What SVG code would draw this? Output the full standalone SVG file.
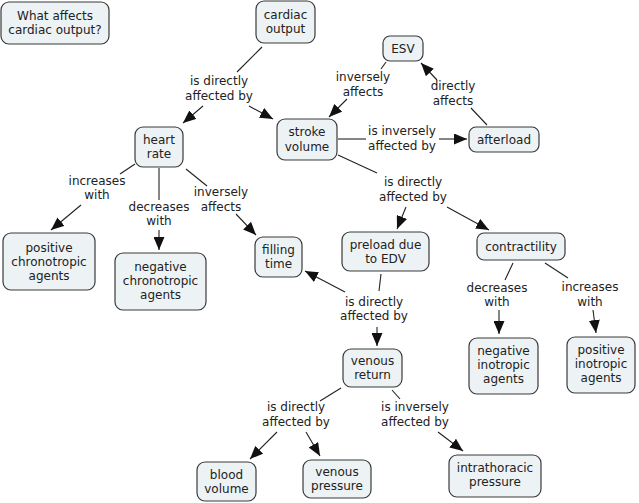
<svg xmlns="http://www.w3.org/2000/svg" width="639" height="503" viewBox="0 0 639 503">
<defs>
<style>
.n rect{fill:#edf2f5;stroke:#3a3a3a;stroke-width:1.2}
text{font-family:"DejaVu Sans",Verdana,sans-serif;font-size:12px;fill:#222;text-anchor:middle}
.c line{stroke:#222;stroke-width:1.1}
.a{marker-end:url(#ah)}
</style>
<marker id="ah" markerUnits="userSpaceOnUse" markerWidth="13" markerHeight="11" refX="13" refY="5.5" orient="auto">
<path d="M0,0 L13,5.5 L0,11 z" fill="#111"/>
</marker>
</defs>
<rect width="639" height="503" fill="#fff"/>
<g id="connectors" class="c">
<line x1="262" y1="47" x2="237" y2="72"/>
<line class="a" x1="203" y1="106" x2="183" y2="123"/>
<line class="a" x1="249" y1="106" x2="273" y2="119"/>
<line x1="135" y1="164" x2="120" y2="174"/>
<line class="a" x1="81" y1="205" x2="51" y2="230"/>
<line x1="159" y1="168" x2="159" y2="200"/>
<line class="a" x1="159" y1="230" x2="159" y2="250"/>
<line x1="186" y1="169" x2="207" y2="186"/>
<line class="a" x1="236" y1="214" x2="256" y2="235"/>
<line x1="386" y1="62" x2="381" y2="69"/>
<line class="a" x1="347" y1="99" x2="329" y2="117"/>
<line x1="487" y1="125" x2="471" y2="108"/>
<line class="a" x1="437" y1="80" x2="421" y2="63"/>
<line x1="338" y1="139" x2="366" y2="139"/>
<line class="a" x1="439" y1="139" x2="467" y2="139"/>
<line x1="338" y1="155" x2="377" y2="173"/>
<line class="a" x1="406" y1="207" x2="397" y2="229"/>
<line class="a" x1="447" y1="207" x2="489" y2="230"/>
<line x1="381" y1="274" x2="379" y2="291"/>
<line class="a" x1="377" y1="327" x2="377" y2="346"/>
<line class="a" x1="345" y1="292" x2="305" y2="271"/>
<line x1="513" y1="263" x2="505" y2="280"/>
<line class="a" x1="499" y1="310" x2="499" y2="334"/>
<line x1="545" y1="263" x2="568" y2="278"/>
<line class="a" x1="593" y1="310" x2="596" y2="333"/>
<line x1="392" y1="390" x2="400" y2="399"/>
<line class="a" x1="438" y1="432" x2="463" y2="451"/>
<line x1="341" y1="388" x2="320" y2="401"/>
<line class="a" x1="277" y1="432" x2="250" y2="459"/>
<line class="a" x1="306" y1="432" x2="320" y2="456"/>
</g>
<g id="labels">
<text x="219" y="85">is directly<tspan x="219" y="100">affected by</tspan></text>
<text x="97" y="185">increases<tspan x="97" y="199">with</tspan></text>
<text x="159" y="211">decreases<tspan x="159" y="225">with</tspan></text>
<text x="221" y="196">inversely<tspan x="221" y="211">affects</tspan></text>
<text x="363" y="81">inversely<tspan x="363" y="96">affects</tspan></text>
<text x="453" y="90">directly<tspan x="453" y="105">affects</tspan></text>
<text x="402" y="135">is inversely<tspan x="402" y="150">affected by</tspan></text>
<text x="413" y="186">is directly<tspan x="413" y="201">affected by</tspan></text>
<text x="374" y="306">is directly<tspan x="374" y="320">affected by</tspan></text>
<text x="497" y="292">decreases<tspan x="497" y="306">with</tspan></text>
<text x="590" y="291">increases<tspan x="590" y="306">with</tspan></text>
<text x="415" y="411">is inversely<tspan x="415" y="426">affected by</tspan></text>
<text x="296" y="411">is directly<tspan x="296" y="426">affected by</tspan></text>
</g>
<g id="n-question" class="n"><rect x="1" y="2" width="108" height="42" rx="8"/><text x="55" y="20">What affects<tspan x="55" y="34">cardiac output?</tspan></text></g>
<g id="n-cardiac-output" class="n"><rect x="256" y="1" width="59" height="42" rx="8"/><text x="285.5" y="19">cardiac<tspan x="285.5" y="33">output</tspan></text></g>
<g id="n-heart-rate" class="n"><rect x="135" y="127" width="48" height="40" rx="8"/><text x="159" y="144">heart<tspan x="159" y="158">rate</tspan></text></g>
<g id="n-stroke-volume" class="n"><rect x="277" y="119" width="60" height="41" rx="8"/><text x="307" y="136">stroke<tspan x="307" y="151">volume</tspan></text></g>
<g id="n-esv" class="n"><rect x="383" y="36" width="40" height="25" rx="7"/><text x="403" y="53">ESV</text></g>
<g id="n-afterload" class="n"><rect x="469" y="127" width="70" height="25" rx="7"/><text x="504" y="144">afterload</text></g>
<g id="n-preload" class="n"><rect x="342" y="232" width="87" height="39" rx="8"/><text x="385.5" y="248.5">preload due<tspan x="385.5" y="262.5">to EDV</tspan></text></g>
<g id="n-contractility" class="n"><rect x="477" y="233" width="88" height="27" rx="7"/><text x="521" y="251">contractility</text></g>
<g id="n-pos-chrono" class="n"><rect x="3" y="233" width="92" height="57" rx="8"/><text x="49" y="251.5">positive<tspan x="49" y="265.5">chronotropic</tspan><tspan x="49" y="279.5">agents</tspan></text></g>
<g id="n-neg-chrono" class="n"><rect x="115" y="253" width="91" height="57" rx="8"/><text x="160.5" y="270.5">negative<tspan x="160.5" y="284.5">chronotropic</tspan><tspan x="160.5" y="298.5">agents</tspan></text></g>
<g id="n-filling-time" class="n"><rect x="255" y="237" width="47" height="40" rx="8"/><text x="278.5" y="254">filling<tspan x="278.5" y="268">time</tspan></text></g>
<g id="n-venous-return" class="n"><rect x="343" y="349" width="59" height="38" rx="8"/><text x="372.5" y="364.5">venous<tspan x="372.5" y="378.5">return</tspan></text></g>
<g id="n-neg-ino" class="n"><rect x="469" y="338" width="69" height="56" rx="8"/><text x="503.5" y="355">negative<tspan x="503.5" y="369">inotropic</tspan><tspan x="503.5" y="383">agents</tspan></text></g>
<g id="n-pos-ino" class="n"><rect x="567" y="337" width="68" height="56" rx="8"/><text x="601" y="354">positive<tspan x="601" y="368">inotropic</tspan><tspan x="601" y="382">agents</tspan></text></g>
<g id="n-intrathoracic" class="n"><rect x="449" y="455" width="92" height="42" rx="8"/><text x="495" y="471.5">intrathoracic<tspan x="495" y="485.5">pressure</tspan></text></g>
<g id="n-blood-volume" class="n"><rect x="197" y="462" width="59" height="39" rx="8"/><text x="226.5" y="478.5">blood<tspan x="226.5" y="492.5">volume</tspan></text></g>
<g id="n-venous-pressure" class="n"><rect x="303" y="460" width="68" height="38" rx="8"/><text x="337" y="476">venous<tspan x="337" y="490">pressure</tspan></text></g>
</svg>
